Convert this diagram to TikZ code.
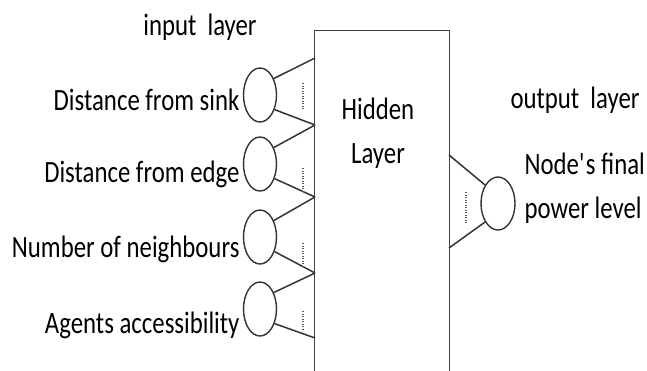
\documentclass[tikz,border=0pt]{standalone}
\usepackage{fontspec}
\setmainfont{Carlito}[FakeStretch=0.8]
\usetikzlibrary{shapes.geometric}

\begin{document}
\begin{tikzpicture}[x=1pt,y=-1pt,font=\fontsize{31}{44}\selectfont,
  neuron/.style={draw=black!80,ellipse,line width=1.4pt,minimum width=33pt,minimum height=54pt,inner sep=0pt},
  wire/.style={line width=1.5pt,black!80},
  dotline/.style={line width=1.3pt,black!65,dash pattern=on 1.2pt off 1.3pt}]
  \useasboundingbox (0,0) rectangle (647,370);
  % hidden layer box, runs off the bottom
  \node[draw=black!75,line width=1.4pt,minimum width=135pt,minimum height=360pt,inner sep=0pt,anchor=north] (hid) at (382,30) {};
  \node[anchor=base,align=center] (hidtxt) at (378,163) {Hidden\\Layer};
  \foreach \y [count=\i] in {58,125,197,273,338} \coordinate (j\i) at (315,\y);
  \coordinate (k1) at (449,155);
  \coordinate (k2) at (449,248);
  % input layer
  \node[anchor=base] (intitle) at (200,35) {input~ layer};
  \foreach \y/\bl/\t [count=\i] in {95/110/Distance from sink,164/182/Distance from edge,237/257/Number of neighbours,309/333/Agents accessibility}
  {
    \node[neuron] (in\i) at (260,\y) {};
    \node[anchor=base east] (lab\i) at (243,\bl) {\t};
  }
  \foreach \i/\a/\b in {1/1/2,2/2/3,3/3/4,4/4/5}
  {
    \draw[wire] (in\i.50) -- (j\a);
    \draw[wire] (in\i.-45) -- (j\b);
  }
  \draw[dotline] (303,83) -- (303,110);
  \draw[dotline] (303,168) -- (303,193);
  \draw[dotline] (303,243) -- (303,267);
  \draw[dotline] (303,311) -- (303,331);
  % output layer
  \node[anchor=base] (outtitle) at (575,108) {output~ layer};
  \node[neuron,minimum width=34pt,minimum height=53pt] (out) at (498,203.5) {};
  \draw[wire] (k1) -- (out.125);
  \draw[wire] (k2) -- (out.-125);
  \draw[dotline] (466,192) -- (466,223);
  \node[anchor=base west,align=left] (outlab) at (521,218) {Node\textquotesingle s final\\power level};
\end{tikzpicture}
\end{document}
